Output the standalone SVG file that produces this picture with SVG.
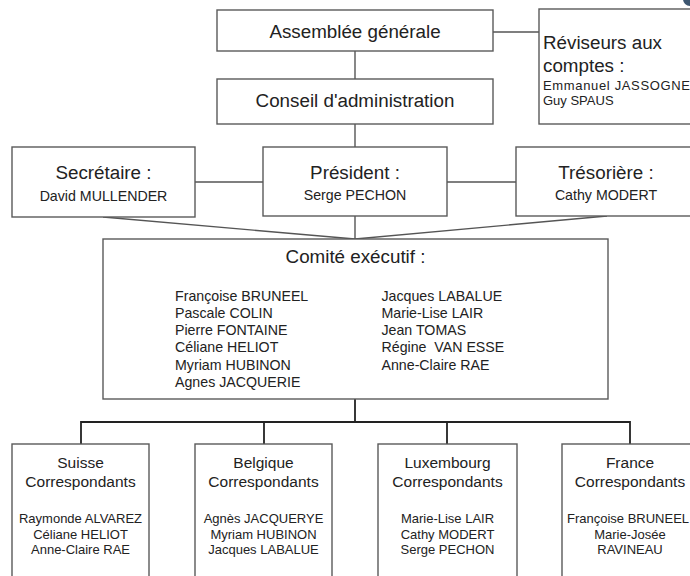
<svg xmlns="http://www.w3.org/2000/svg" width="690" height="576" viewBox="0 0 690 576">
<style>
.box{fill:#fff;stroke:#5a5a5a;stroke-width:1.4}
.ln{fill:none;stroke:#555;stroke-width:1.4}
.lnd{fill:none;stroke:#222;stroke-width:1.8}
text{font-family:"Liberation Sans",Arial,sans-serif;fill:#222}
.big{font-size:18.8px}
.sm{font-size:14.2px}
.hd{font-size:15.5px}
.nm{font-size:13px}
.rv{font-size:13px}
.c{text-anchor:middle}
</style>
<rect width="690" height="576" fill="#fff"/>
<g id="connectors">
<line class="ln" x1="355" y1="51" x2="355" y2="79"/>
<line class="ln" x1="493" y1="32" x2="539" y2="32"/>
<line class="ln" x1="355" y1="124" x2="355" y2="147"/>
<line class="ln" x1="195" y1="182" x2="263" y2="182"/>
<line class="ln" x1="447" y1="182" x2="516" y2="182"/>
<line class="ln" x1="355" y1="216" x2="355" y2="239"/>
<line class="ln" x1="103" y1="217" x2="355" y2="239"/>
<line class="ln" x1="607" y1="216" x2="355" y2="239"/>
<line class="lnd" x1="355" y1="399" x2="355" y2="422"/>
<polyline class="lnd" points="81,444 81,422 630,422 630,444"/>
<line class="lnd" x1="264" y1="422" x2="264" y2="444"/>
<line class="lnd" x1="447" y1="422" x2="447" y2="444"/>
</g>
<g id="assemblee">
<rect class="box" x="217" y="10" width="276" height="41"/>
<text class="big c" x="355" y="38">Assemblée générale</text>
</g>
<g id="reviseurs">
<rect class="box" x="539" y="9" width="160" height="115"/>
<text class="big" x="543" y="49">Réviseurs aux</text>
<text class="big" x="543" y="72">comptes :</text>
<text class="rv" x="543" y="90" textLength="147" lengthAdjust="spacing">Emmanuel JASSOGNE</text>
<text class="rv" x="543" y="105">Guy SPAUS</text>
</g>
<g id="conseil">
<rect class="box" x="217" y="79" width="276" height="45"/>
<text class="big c" x="355" y="107">Conseil d'administration</text>
</g>
<g id="secretaire">
<rect class="box" x="12" y="147" width="183" height="70"/>
<text class="big c" x="103.5" y="179">Secrétaire :</text>
<text class="sm c" x="103.5" y="200.5">David MULLENDER</text>
</g>
<g id="president">
<rect class="box" x="263" y="147" width="184" height="69"/>
<text class="big c" x="355" y="178.5">Président :</text>
<text class="sm c" x="355" y="200">Serge PECHON</text>
</g>
<g id="tresoriere">
<rect class="box" x="516" y="147" width="184" height="69"/>
<text class="big c" x="606" y="179">Trésorière :</text>
<text class="sm c" x="606" y="200">Cathy MODERT</text>
</g>
<g id="comite">
<rect class="box" x="103" y="239" width="505" height="160"/>
<text class="big c" x="355.5" y="263">Comité exécutif :</text>
<text class="sm" x="175" y="301">Françoise BRUNEEL</text>
<text class="sm" x="175" y="318">Pascale COLIN</text>
<text class="sm" x="175" y="335">Pierre FONTAINE</text>
<text class="sm" x="175" y="352">Céliane HELIOT</text>
<text class="sm" x="175" y="369.5">Myriam HUBINON</text>
<text class="sm" x="175" y="386.5">Agnes JACQUERIE</text>
<text class="sm" x="381.5" y="301">Jacques LABALUE</text>
<text class="sm" x="381.5" y="318">Marie-Lise LAIR</text>
<text class="sm" x="381.5" y="335">Jean TOMAS</text>
<text class="sm" x="381.5" y="352" xml:space="preserve">Régine  VAN ESSE</text>
<text class="sm" x="381.5" y="369.5">Anne-Claire RAE</text>
</g>
<g id="suisse">
<rect class="box" x="12" y="444" width="137" height="140"/>
<text class="hd c" x="80.5" y="468">Suisse</text>
<text class="hd c" x="80.5" y="487">Correspondants</text>
<text class="nm c" x="80.5" y="523">Raymonde ALVAREZ</text>
<text class="nm c" x="80.5" y="538.5">Céliane HELIOT</text>
<text class="nm c" x="80.5" y="554">Anne-Claire RAE</text>
</g>
<g id="belgique">
<rect class="box" x="195" y="444" width="137" height="140"/>
<text class="hd c" x="263.5" y="468">Belgique</text>
<text class="hd c" x="263.5" y="487">Correspondants</text>
<text class="nm c" x="263.5" y="523">Agnès JACQUERYE</text>
<text class="nm c" x="263.5" y="538.5">Myriam HUBINON</text>
<text class="nm c" x="263.5" y="554">Jacques LABALUE</text>
</g>
<g id="luxembourg">
<rect class="box" x="378" y="444" width="139" height="140"/>
<text class="hd c" x="447.5" y="468">Luxembourg</text>
<text class="hd c" x="447.5" y="487">Correspondants</text>
<text class="nm c" x="447.5" y="523">Marie-Lise LAIR</text>
<text class="nm c" x="447.5" y="538.5">Cathy MODERT</text>
<text class="nm c" x="447.5" y="554">Serge PECHON</text>
</g>
<g id="france">
<rect class="box" x="562" y="444" width="140" height="140"/>
<text class="hd c" x="630" y="468">France</text>
<text class="hd c" x="630" y="487">Correspondants</text>
<text class="nm c" x="628" y="523">Françoise BRUNEEL</text>
<text class="nm c" x="630" y="538.5">Marie-Josée</text>
<text class="nm c" x="630" y="554">RAVINEAU</text>
</g>
<circle cx="690" cy="-1" r="7" fill="#3d5670"/>
</svg>
